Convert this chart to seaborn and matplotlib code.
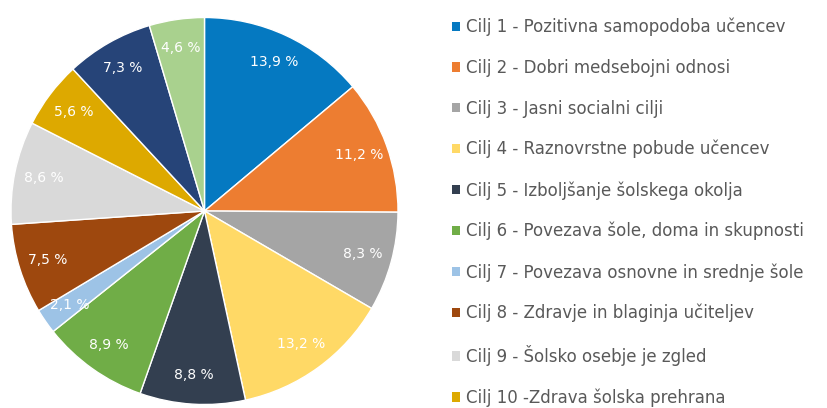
import matplotlib
matplotlib.use("Agg")
import matplotlib.pyplot as plt
import seaborn as sns
from matplotlib.patches import Patch

# Podatki
goals = [
    "Cilj 1 - Pozitivna samopodoba učencev",
    "Cilj 2 - Dobri medsebojni odnosi",
    "Cilj 3 - Jasni socialni cilji",
    "Cilj 4 - Raznovrstne pobude učencev",
    "Cilj 5 - Izboljšanje šolskega okolja",
    "Cilj 6 - Povezava šole, doma in skupnosti",
    "Cilj 7 - Povezava osnovne in srednje šole",
    "Cilj 8 - Zdravje in blaginja učiteljev",
    "Cilj 9 - Šolsko osebje je zgled",
    "Cilj 10 -Zdrava šolska prehrana",
    "Cilj 11",
    "Cilj 12",
]
shares = [13.9, 11.2, 8.3, 13.2, 8.8, 8.9, 2.1, 7.5, 8.6, 5.6, 7.3, 4.6]
colors = [
    "#0579C1", "#ED7D31", "#A5A5A5", "#FFD966", "#333F50", "#70AD47",
    "#9DC3E6", "#9E480E", "#D9D9D9", "#DDA900", "#264478", "#A9D18E",
]

sns.set_theme(style="white")
plt.rcParams["font.family"] = ["DejaVu Sans"]
palette = sns.color_palette(colors)

fig = plt.figure(figsize=(8.27, 4.08), dpi=100)
ax = fig.add_axes([11 / 827, 3.5 / 408, 387 / 827, 387 / 408])

wedges, _, autotexts = ax.pie(
    shares,
    colors=palette,
    startangle=90,
    counterclock=False,
    autopct=lambda p: f"{p:.1f} %".replace(".", ","),
    pctdistance=0.85,
    wedgeprops=dict(edgecolor="white", linewidth=1),
    textprops=dict(color="white", fontsize=10),
)
ax.set_xlim(-1, 1)
ax.set_ylim(-1, 1)
ax.set_aspect("equal")

# Legenda (vidnih je le prvih 10 vnosov)
handles = [Patch(facecolor=palette[i], edgecolor="none") for i in range(10)]
fig.legend(
    handles,
    goals[:10],
    loc="upper left",
    bbox_to_anchor=(452 / 827, 1 - 18 / 408),
    frameon=False,
    fontsize=12,
    labelcolor="#595959",
    handlelength=0.5,
    handleheight=0.5,
    handletextpad=0.35,
    labelspacing=1.35,
    borderaxespad=0,
    borderpad=0,
)

fig.savefig("out.png", dpi=100)
